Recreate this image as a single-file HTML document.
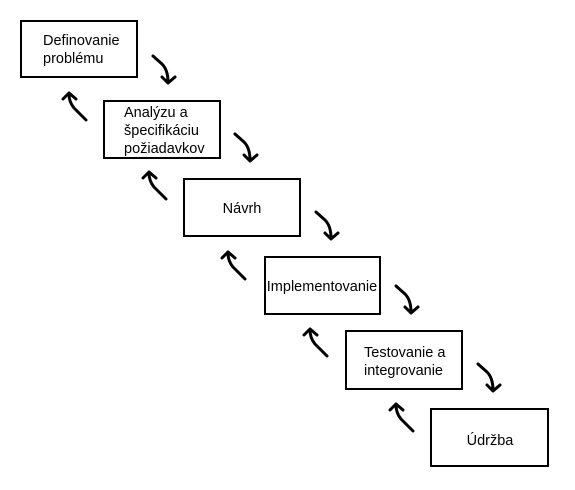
<!DOCTYPE html>
<html><head><meta charset="utf-8"><style>
html,body{margin:0;padding:0;background:#fff;}
svg{display:block}
text{font-family:"Liberation Sans",Arial,sans-serif;font-size:14.5px;fill:#000}
</style></head><body>
<svg width="575" height="490" viewBox="0 0 575 490" xmlns="http://www.w3.org/2000/svg">
<defs>
<g id="dn" fill="none" stroke="#000" stroke-width="3" stroke-linecap="round" stroke-linejoin="round">
<path d="M153,56 L162,64 Q168,70 168,82"/>
<path d="M162,77 L168,83 L175,77"/>
</g>
<g id="up" fill="none" stroke="#000" stroke-width="3" stroke-linecap="round" stroke-linejoin="round">
<path d="M86,120 L74,108 Q69,102 69,94"/>
<path d="M63,99 L69,93 L76,99"/>
</g>
</defs>
<g fill="#fff" stroke="#000" stroke-width="2">
<rect x="21" y="21" width="116" height="56"/>
<rect x="104" y="101" width="116" height="57"/>
<rect x="184" y="179" width="116" height="57"/>
<rect x="265" y="257" width="115" height="57"/>
<rect x="346" y="331" width="116" height="58"/>
<rect x="431" y="409" width="117" height="57"/>
</g>
<text x="43" y="45">Definovanie</text>
<text x="43" y="63">problému</text>
<text x="124" y="117">Analýzu a</text>
<text x="124" y="135">špecifikáciu</text>
<text x="124" y="153">požiadavkov</text>
<text x="242" y="213" text-anchor="middle">Návrh</text>
<text x="322" y="291" text-anchor="middle">Implementovanie</text>
<text x="364" y="357">Testovanie a</text>
<text x="364" y="375">integrovanie</text>
<text x="490" y="445" text-anchor="middle">Údržba</text>
<use href="#dn"/>
<use href="#dn" transform="translate(82,78)"/>
<use href="#dn" transform="translate(163,156)"/>
<use href="#dn" transform="translate(243,230)"/>
<use href="#dn" transform="translate(325,308)"/>
<use href="#up"/>
<use href="#up" transform="translate(80,79)"/>
<use href="#up" transform="translate(159,159)"/>
<use href="#up" transform="translate(241,236)"/>
<use href="#up" transform="translate(327,311)"/>
</svg>
</body></html>
